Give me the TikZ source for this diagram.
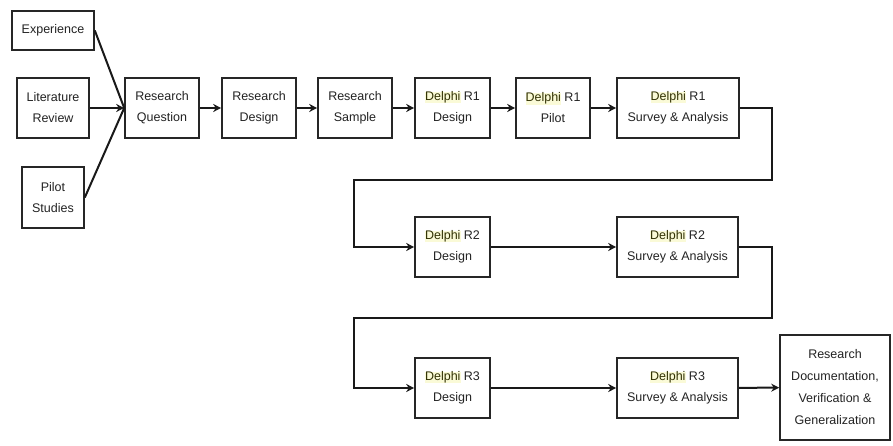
\documentclass[tikz,border=0pt]{standalone}
\usepackage{fontspec}
\setmainfont{Liberation Sans}
\usepackage{xcolor}
\usepackage{tikz}
\usetikzlibrary{arrows.meta}
\definecolor{txt}{RGB}{35,35,35}
\definecolor{dlpcol}{RGB}{50,50,5}
\definecolor{dlphl}{RGB}{250,250,215}
\newcommand{\dlp}{{\setlength{\fboxsep}{0pt}\colorbox{dlphl}{\color{dlpcol}Delphi}}}

\begin{document}
\begin{tikzpicture}[x=1pt,y=-1pt,
        box/.style={draw=black!85,line width=1.6pt,fill=white,align=center,inner sep=0pt,
            font=\fontsize{12.5}{21}\selectfont,text=txt,minimum height=60pt},
        arr/.style={line width=2pt,-{Stealth[length=8pt,width=8pt]},draw=black!90}]
        \useasboundingbox (0,0) rectangle (893,446);
        % inputs
        \node[box,minimum width=82pt,minimum height=39pt] (exp) at (53,30.5) {Experience};
        \node[box,minimum width=72pt] (lit) at (53,108) {Literature\\Review};
        \node[box,minimum width=62pt,minimum height=61pt] (pil) at (53,197.5) {Pilot\\Studies};
        % first row
        \node[box,minimum width=74pt] (rq) at (162,108) {Research\\Question};
        \node[box,minimum width=74pt] (rd) at (259,108) {Research\\Design};
        \node[box,minimum width=74pt] (rs) at (355,108) {Research\\Sample};
        \node[box,minimum width=75pt] (d1d) at (452.5,108) {\dlp{} R1\\Design};
        \node[box,minimum width=74pt] (d1p) at (553,108) {\dlp{} R1\\Pilot};
        \node[box,minimum width=122pt] (d1s) at (678,108) {\dlp{} R1\\Survey \& Analysis};
        % second row
        \node[box,minimum width=75pt] (d2d) at (452.5,247) {\dlp{} R2\\Design};
        \node[box,minimum width=121pt] (d2s) at (677.5,247) {\dlp{} R2\\Survey \& Analysis};
        % third row
        \node[box,minimum width=75pt] (d3d) at (452.5,388) {\dlp{} R3\\Design};
        \node[box,minimum width=121pt] (d3s) at (677.5,388) {\dlp{} R3\\Survey \& Analysis};
        \node[box,minimum width=110pt,minimum height=105pt,font=\fontsize{12.5}{22}\selectfont] (doc) at (835,387.5)
            {Research\\Documentation,\\Verification \&\\Generalization};
        \coordinate (t1) at (772,180);
        \coordinate (t2) at (354,180);
        \coordinate (t3) at (772,318);
        \coordinate (t4) at (354,318);
        \draw[line width=2pt,draw=black!90] (exp.east) -- (rq.west);
        \draw[line width=2pt,draw=black!90] (pil.east) -- (rq.west);
        \draw[arr] (lit.east) -- (rq.west);
        \draw[arr] (rq) -- (rd);
        \draw[arr] (rd) -- (rs);
        \draw[arr] (rs) -- (d1d);
        \draw[arr] (d1d) -- (d1p);
        \draw[arr] (d1p) -- (d1s);
        \draw[arr] (d1s.east) -| (t1) -- (t2) |- (d2d.west);
        \draw[arr] (d2d) -- (d2s);
        \draw[arr] (d2s.east) -| (t3) -- (t4) |- (d3d.west);
        \draw[arr] (d3d) -- (d3s);
        \draw[arr] (d3s) -- (doc);
    \end{tikzpicture}
\end{document}
